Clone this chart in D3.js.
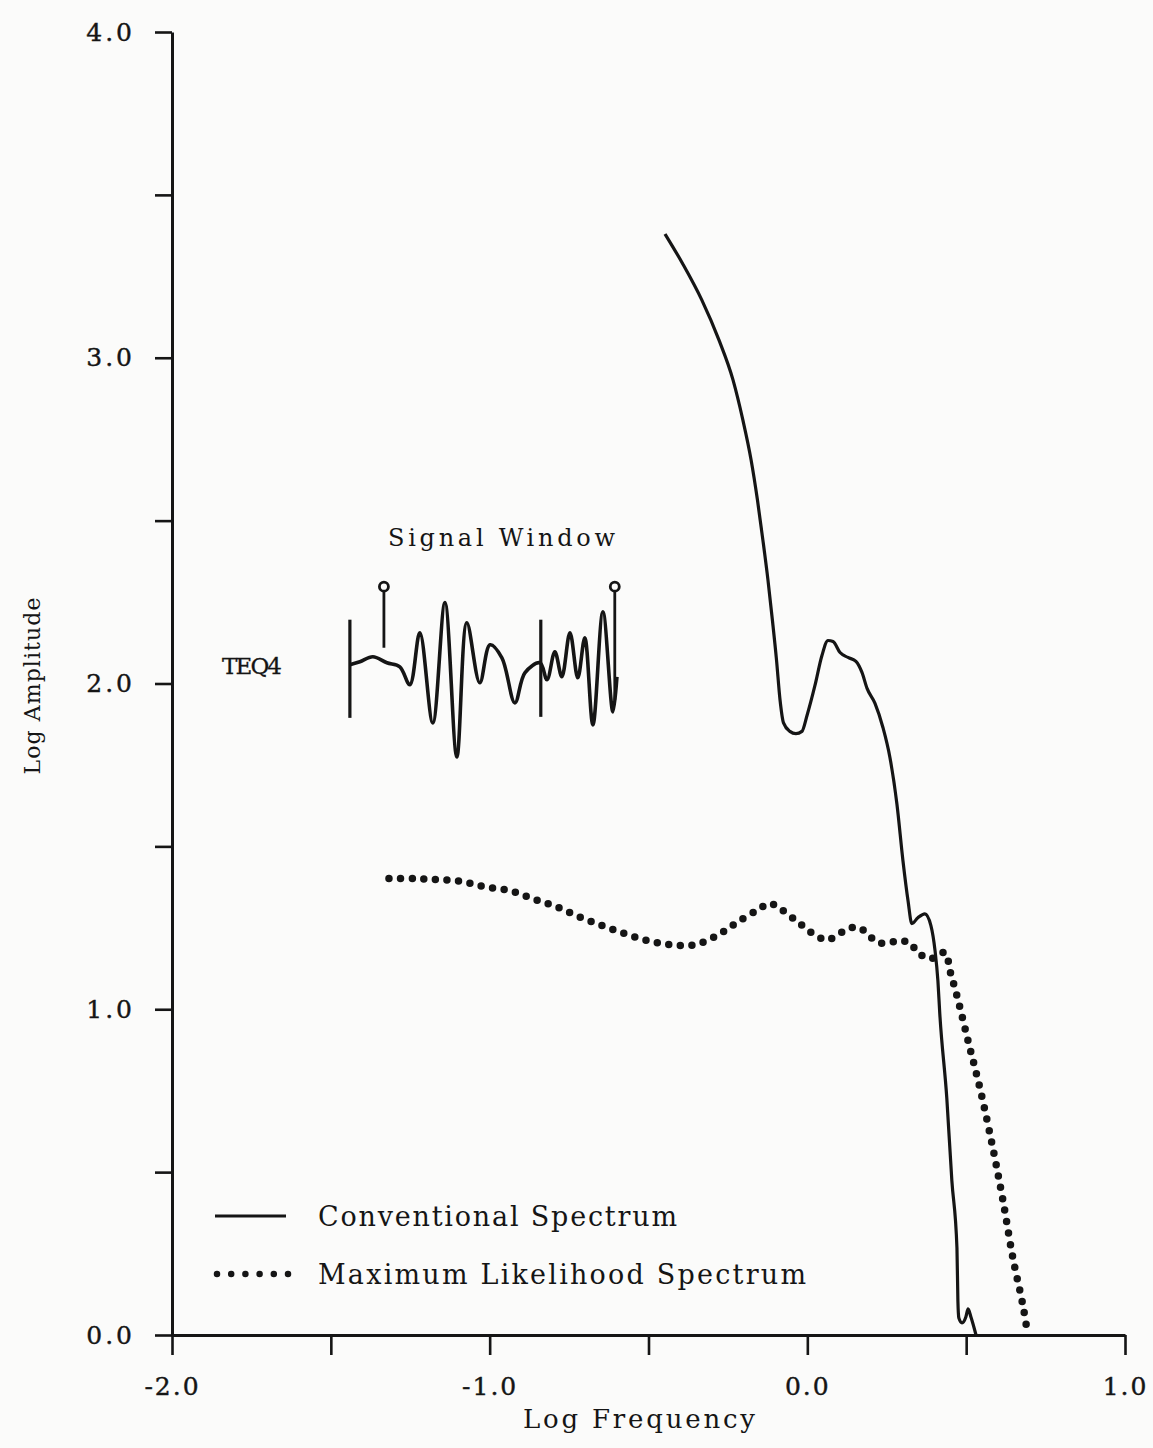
<!DOCTYPE html>
<html>
<head>
<meta charset="utf-8">
<script src="https://cdn.jsdelivr.net/npm/d3@7"></script>
<style>
  html, body { margin: 0; padding: 0; background: #fbfbfa; }
  svg { display: block; }
  text { font-family: "DejaVu Serif", "Liberation Serif", serif; fill: #151515; }
</style>
</head>
<body>
<svg id="chart" width="1153" height="1448"></svg>
<script>
// ---- Data ----
const xTicks = [-2.0, -1.5, -1.0, -0.5, 0.0, 0.5, 1.0];
const xTickLabels = ["-2.0", "", "-1.0", "", "0.0", "", "1.0"];
const yTicks = [0.0, 0.5, 1.0, 1.5, 2.0, 2.5, 3.0, 3.5, 4.0];
const yTickLabels = ["0.0", "", "1.0", "", "2.0", "", "3.0", "", "4.0"];

// Conventional Spectrum (solid)
const convFreq = [-0.448, -0.392, -0.332, -0.278, -0.234, -0.203, -0.177, -0.157, -0.140, -0.124,
  -0.110, -0.097, -0.086, -0.075, -0.055, -0.036, -0.017, -0.001, 0.024, 0.046,
  0.065, 0.081, 0.103, 0.128, 0.153, 0.172, 0.188, 0.213, 0.238, 0.260,
  0.282, 0.301, 0.317, 0.329, 0.348, 0.370, 0.389, 0.402, 0.411, 0.417,
  0.439, 0.455, 0.471, 0.474, 0.477, 0.487, 0.499, 0.506, 0.515, 0.531];
const convAmp = [3.380, 3.288, 3.177, 3.054, 2.932, 2.809, 2.686, 2.563, 2.441, 2.318,
  2.195, 2.072, 1.950, 1.879, 1.853, 1.846, 1.853, 1.902, 1.994, 2.086,
  2.132, 2.129, 2.095, 2.080, 2.068, 2.034, 1.985, 1.939, 1.865, 1.773,
  1.630, 1.456, 1.333, 1.263, 1.281, 1.293, 1.257, 1.180, 1.088, 0.986,
  0.728, 0.473, 0.267, 0.104, 0.052, 0.037, 0.055, 0.080, 0.055, 0.0];

// Maximum Likelihood Spectrum (dotted)
const mlFreq = [-1.317, -1.238, -1.163, -1.087, -1.015, -0.936, -0.864, -0.791, -0.719, -0.646,
  -0.574, -0.499, -0.426, -0.354, -0.285, -0.222, -0.155, -0.118, -0.086, -0.020,
  0.037, 0.068, 0.134, 0.169, 0.225, 0.292, 0.323, 0.348, 0.386, 0.433,
  0.449, 0.471, 0.506, 0.543, 0.584, 0.616, 0.647, 0.679, 0.694];
const mlAmp = [1.401, 1.401, 1.398, 1.392, 1.376, 1.364, 1.339, 1.315, 1.284, 1.257,
  1.232, 1.210, 1.198, 1.198, 1.226, 1.266, 1.306, 1.324, 1.309, 1.260,
  1.220, 1.214, 1.250, 1.247, 1.204, 1.210, 1.204, 1.174, 1.155, 1.174,
  1.118, 1.041, 0.903, 0.759, 0.574, 0.412, 0.237, 0.089, 0.0];

// Inset "Signal Window" trace TEQ4 (time in % of window, amplitude in arbitrary units)
const sigTime = [0, 3.7, 8.5, 13.7, 18.5, 22.2, 25.9, 30.7, 35.2, 39.6, 43.3, 48.1, 51.9, 56.3,
  61.1, 64.8, 70.4, 73.0, 75.9, 78.5, 81.5, 84.4, 87.0, 90.0, 93.7, 97.4, 98.9];
const sigAmp = [0, 0.3, 0.8, 0.2, -0.2, -2.0, 3.2, -5.8, 6.2, -9.2, 4.2, -1.8, 2.0, 0.7,
  -3.8, -0.8, 0.2, -1.5, 1.3, -1.2, 3.2, -1.3, 2.7, -6.0, 5.3, -4.7, -1.2];
// vertical bars in the trace: [time, top amp, bottom amp]
const sigBars = [[0, 4.5, -5.3], [70.7, 4.5, -5.2]];
// window pins: [time, head amp, stem-bottom amp]
const sigPins = [[12.6, 7.8, 1.7], [98.1, 7.8, -3.5]];

const legendLabels = ["Conventional Spectrum", "Maximum Likelihood Spectrum"];

// ---- Drawing ----
const svg = d3.select("#chart");
const ink = "#151515";

const x = d3.scaleLinear().domain([-2, 1]).range([172, 1125]);
const y = d3.scaleLinear().domain([0, 4]).range([1335, 32]);

// Y axis
const yAxis = d3.axisLeft(y)
  .tickValues(yTicks)
  .tickSize(17)
  .tickSizeOuter(0)
  .tickPadding(20)
  .tickFormat((d, i) => yTickLabels[i]);
const gy = svg.append("g").attr("transform", `translate(${x(-2)},0)`).call(yAxis);
gy.select(".domain").attr("stroke", ink).attr("stroke-width", 3);
gy.selectAll(".tick line").attr("stroke", ink).attr("stroke-width", 2.6);
gy.selectAll(".tick text")
  .attr("font-family", "DejaVu Serif, serif")
  .attr("font-size", 25)
  .attr("letter-spacing", 3)
  .attr("stroke", ink).attr("stroke-width", 0.4)
  .attr("fill", ink);

// X axis
const xAxis = d3.axisBottom(x)
  .tickValues(xTicks)
  .tickSize(20)
  .tickSizeOuter(0)
  .tickPadding(12)
  .tickFormat((d, i) => xTickLabels[i]);
const gx = svg.append("g").attr("transform", `translate(0,${y(0)})`).call(xAxis);
gx.select(".domain").attr("stroke", ink).attr("stroke-width", 3);
gx.selectAll(".tick line").attr("stroke", ink).attr("stroke-width", 2.6);
gx.selectAll(".tick text")
  .attr("font-family", "DejaVu Serif, serif")
  .attr("font-size", 25)
  .attr("letter-spacing", 2)
  .attr("stroke", ink).attr("stroke-width", 0.4)
  .attr("fill", ink)
  .attr("dy", "1.1em");

// Axis titles
svg.append("text")
  .attr("x", x(-0.53)).attr("y", 1428)
  .attr("text-anchor", "middle")
  .attr("font-size", 26)
  .attr("textLength", 232)
  .text("Log Frequency");
svg.append("text")
  .attr("transform", `translate(40,${686}) rotate(-90)`)
  .attr("text-anchor", "middle")
  .attr("font-size", 22)
  .attr("textLength", 177)
  .text("Log Amplitude");

// Conventional spectrum (solid)
const conv = convFreq.map((f, i) => [f, convAmp[i]]);
const line = d3.line().x(d => x(d[0])).y(d => y(d[1])).curve(d3.curveMonotoneX);
svg.append("path")
  .datum(conv)
  .attr("d", line)
  .attr("fill", "none")
  .attr("stroke", ink)
  .attr("stroke-width", 3.2)
  .attr("stroke-linejoin", "round");

// Maximum likelihood spectrum (dotted)
const ml = mlFreq.map((f, i) => [f, mlAmp[i]]);
svg.append("path")
  .datum(ml)
  .attr("d", d3.line().x(d => x(d[0])).y(d => y(d[1])).curve(d3.curveCatmullRom.alpha(0.5)))
  .attr("fill", "none")
  .attr("stroke", ink)
  .attr("stroke-width", 7.5)
  .attr("stroke-linecap", "round")
  .attr("stroke-dasharray", "0 11.6");

// Inset: signal window
const xs = d3.scaleLinear().domain([0, 100]).range([x(-1.44), x(-0.59)]);
const ys = d3.scaleLinear().domain([-10, 10]).range([y(1.75), y(2.365)]);
const inset = svg.append("g");
const sig = sigTime.map((t, i) => [t, sigAmp[i]]);
inset.append("path")
  .datum(sig)
  .attr("d", d3.line().x(d => xs(d[0])).y(d => ys(d[1])).curve(d3.curveCatmullRom.alpha(0.5)))
  .attr("fill", "none")
  .attr("stroke", ink)
  .attr("stroke-width", 3.6)
  .attr("stroke-linejoin", "round");
inset.selectAll("line.bar")
  .data(sigBars)
  .join("line")
  .attr("class", "bar")
  .attr("x1", d => xs(d[0])).attr("x2", d => xs(d[0]))
  .attr("y1", d => ys(d[1])).attr("y2", d => ys(d[2]))
  .attr("stroke", ink).attr("stroke-width", 3.2);
inset.selectAll("line.pin")
  .data(sigPins)
  .join("line")
  .attr("class", "pin")
  .attr("x1", d => xs(d[0])).attr("x2", d => xs(d[0]))
  .attr("y1", d => ys(d[1]) + 5).attr("y2", d => ys(d[2]))
  .attr("stroke", ink).attr("stroke-width", 2.8);
inset.selectAll("circle.pin")
  .data(sigPins)
  .join("circle")
  .attr("class", "pin")
  .attr("cx", d => xs(d[0])).attr("cy", d => ys(d[1]))
  .attr("r", 4.5)
  .attr("fill", "#fbfbfa")
  .attr("stroke", ink).attr("stroke-width", 2.8);

svg.append("text")
  .attr("x", 388).attr("y", 546)
  .attr("font-size", 24)
  .attr("textLength", 227)
  .text("Signal Window");
svg.append("text")
  .attr("x", 222).attr("y", 674)
  .attr("font-size", 23)
  .attr("stroke", ink).attr("stroke-width", 0.3)
  .attr("textLength", 60)
  .text("TEQ4");

// Legend
const legY = [1216, 1274];
svg.append("line")
  .attr("x1", 215).attr("x2", 286)
  .attr("y1", legY[0]).attr("y2", legY[0])
  .attr("stroke", ink).attr("stroke-width", 3.2);
svg.append("line")
  .attr("x1", 217).attr("x2", 288)
  .attr("y1", legY[1]).attr("y2", legY[1])
  .attr("stroke", ink).attr("stroke-width", 6.5)
  .attr("stroke-linecap", "round")
  .attr("stroke-dasharray", "0 14.2");
svg.selectAll("text.leg")
  .data(legendLabels)
  .join("text")
  .attr("class", "leg")
  .attr("x", 318)
  .attr("y", (d, i) => legY[i] + 10)
  .attr("font-size", 27)
  .attr("textLength", (d, i) => i === 0 ? 359 : 488)
  .text(d => d);
</script>
</body>
</html>
